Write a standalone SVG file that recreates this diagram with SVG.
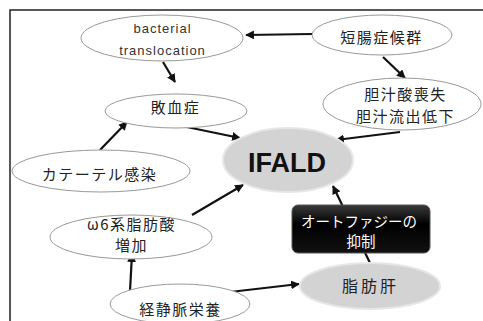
<svg xmlns="http://www.w3.org/2000/svg" width="483" height="321" viewBox="0 0 483 321">
<defs>
<style>
.n{fill:#fff;stroke:#999;stroke-width:1}
.g{fill:#d3d3d3;stroke:#e6e6e6;stroke-width:2}
.t{font-family:"Noto Sans CJK JP","Liberation Sans",sans-serif;font-size:15px;letter-spacing:1.5px;fill:#222;text-anchor:middle}
.e{font-family:"Liberation Sans",sans-serif;font-size:13px;letter-spacing:1px;fill:#333;text-anchor:middle}
.c line{stroke:#111;stroke-width:2.2;marker-end:url(#ah)}
</style>
<marker id="ah" viewBox="0 0 10 10" refX="9" refY="5" markerWidth="4" markerHeight="4" orient="auto" markerUnits="strokeWidth">
<path d="M0,0L10,5L0,10z" fill="#111"/>
</marker>
<linearGradient id="bk" x1="0" y1="0" x2="0" y2="1">
<stop offset="0" stop-color="#3a3a3a"/>
<stop offset="0.4" stop-color="#000"/>
<stop offset="1" stop-color="#111"/>
</linearGradient>
</defs>
<rect x="0" y="0" width="483" height="321" fill="#fff"/>
<path d="M10,321V10H483" fill="none" stroke="#222" stroke-width="1.5"/>
<g class="c">
<line x1="312" y1="34" x2="246" y2="35"/>
<line x1="383" y1="57" x2="405" y2="78"/>
<line x1="163" y1="62" x2="175" y2="82"/>
<line x1="177" y1="125" x2="240" y2="138"/>
<line x1="400" y1="132" x2="336" y2="140"/>
<line x1="100" y1="150" x2="127" y2="122"/>
<line x1="192" y1="215" x2="243" y2="185"/>
<line x1="130" y1="291" x2="132" y2="254"/>
<line x1="230" y1="292" x2="299" y2="284"/>
<line x1="370" y1="263" x2="333" y2="186"/>
</g>
<g id="bacterial">
<ellipse class="n" cx="162" cy="38" rx="81" ry="23"/>
<text class="e" x="162.5" y="33">bacterial</text>
<text class="e" x="162.5" y="55">translocation</text>
</g>
<g id="tanchou">
<ellipse class="n" cx="382" cy="35" rx="70" ry="20"/>
<text class="t" x="381.5" y="43">短腸症候群</text>
</g>
<g id="haiketsu">
<ellipse class="n" cx="176" cy="111" rx="71" ry="17"/>
<text class="t" x="175.5" y="113">敗血症</text>
</g>
<g id="tanjuu">
<ellipse class="n" cx="402" cy="104" rx="79" ry="26"/>
<text class="t" x="405.5" y="100">胆汁酸喪失</text>
<text class="t" x="405.5" y="122">胆汁流出低下</text>
</g>
<g id="ifald">
<ellipse class="g" cx="288" cy="160" rx="65" ry="32"/>
<text x="287" y="172" text-anchor="middle" font-family="'Liberation Sans',sans-serif" font-weight="bold" font-size="27" fill="#111">IFALD</text>
</g>
<g id="catheter">
<ellipse class="n" cx="101" cy="171" rx="89" ry="21"/>
<text class="t" x="99.5" y="180">カテーテル感染</text>
</g>
<g id="omega6">
<ellipse class="n" cx="131" cy="237" rx="81" ry="22"/>
<text class="t" x="131.5" y="230">ω6系脂肪酸</text>
<text class="t" x="131.5" y="251">増加</text>
</g>
<g id="autophagy">
<rect x="292" y="205" width="138" height="48" rx="6" fill="url(#bk)" stroke="#555"/>
<text class="t" x="359" y="227" style="fill:#fff;letter-spacing:0;font-size:14.5px">オートファジーの</text>
<text class="t" x="361" y="247" style="fill:#fff;letter-spacing:0;font-size:14.5px">抑制</text>
</g>
<g id="kaijou">
<ellipse class="n" cx="180" cy="304" rx="70" ry="20"/>
<text class="t" x="180.5" y="315">経静脈栄養</text>
</g>
<g id="shibokan">
<ellipse class="g" cx="370" cy="286" rx="70" ry="23"/>
<text class="t" x="370.5" y="292" style="font-size:16px;letter-spacing:3px">脂肪肝</text>
</g>
</svg>
